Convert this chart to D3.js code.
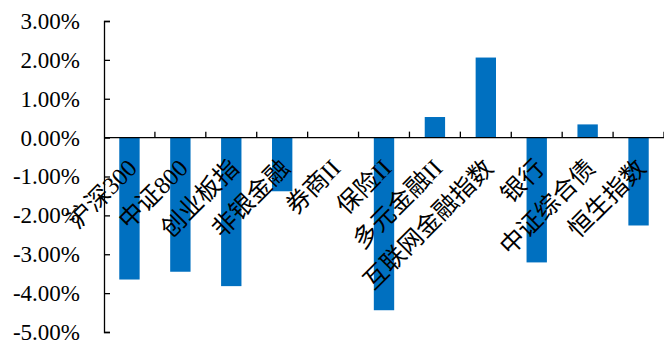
<!DOCTYPE html>
<html>
<head>
<meta charset="utf-8">
<script src="https://cdn.jsdelivr.net/npm/d3@7"></script>
<style>
  html, body { margin: 0; padding: 0; background: #fff; }
  svg { display: block; }
</style>
</head>
<body>
<svg id="chart" width="664" height="344"></svg>
<script>
// Weekly returns of market and financial-sector indices (%)
const categories = ["沪深300", "中证800", "创业板指", "非银金融", "券商II", "保险II",
                    "多元金融II", "互联网金融指数", "银行", "中证综合债", "恒生指数"];
const returns = [-3.65, -3.45, -3.82, -1.38, 0.0, -4.44, 0.53, 2.06, -3.21, 0.34, -2.26];
const yTicks = [3, 2, 1, 0, -1, -2, -3, -4, -5];

const serif = "'Liberation Serif', 'DejaVu Serif', 'Noto Sans CJK SC', serif";

const svg = d3.select("#chart");
const plotLeft = 104, plotRight = 664, plotTop = 21, plotBottom = 332;

const x = d3.scaleBand()
  .domain(categories)
  .range([plotLeft, plotRight])
  .paddingInner(0.6)
  .paddingOuter(0.3);

const y = d3.scaleLinear().domain([-5, 3]).range([plotBottom, plotTop]);

const fmt = v => v.toFixed(2) + "%";

// bars
svg.append("g")
  .selectAll("rect")
  .data(returns)
  .join("rect")
  .attr("x", (d, i) => x(categories[i]))
  .attr("width", x.bandwidth())
  .attr("y", d => y(Math.max(0, d)))
  .attr("height", d => Math.abs(y(d) - y(0)))
  .attr("fill", "#0070C0");

// y axis: ticks point inward, labels on the left
const yAxis = d3.axisLeft(y)
  .tickValues(yTicks)
  .tickSize(-6)
  .tickPadding(24)
  .tickFormat(fmt);

const gy = svg.append("g")
  .attr("transform", `translate(${plotLeft},0)`)
  .call(yAxis)
  .attr("font-family", serif)
  .attr("font-size", 23);
gy.select(".domain").attr("stroke", "#000").attr("stroke-width", 1.3);
gy.selectAll(".tick line").attr("stroke", "#000").attr("stroke-width", 1.3);
gy.selectAll(".tick text").attr("fill", "#000");

// category axis along zero: divider ticks between categories, pointing up
const step = x.step();
const x0 = x.range()[0];
const dividers = d3.range(categories.length + 1).map(i => x0 + i * step);
const gx = svg.append("g");
gx.append("line")
  .attr("x1", plotLeft).attr("x2", plotRight)
  .attr("y1", y(0)).attr("y2", y(0))
  .attr("stroke", "#000").attr("stroke-width", 1.3);
gx.selectAll("line.div")
  .data(dividers.slice(1))
  .join("line")
  .attr("class", "div")
  .attr("x1", d => d).attr("x2", d => d)
  .attr("y1", y(0)).attr("y2", y(0) - 6)
  .attr("stroke", "#000").attr("stroke-width", 1.3);

// rotated category labels
const center = c => x(c) + x.bandwidth() / 2;
svg.append("g")
  .attr("font-family", serif)
  .attr("font-size", 24.5)
  .selectAll("text")
  .data(categories)
  .join("text")
  .attr("fill", "#000")
  .attr("text-anchor", "end")
  .attr("transform", d => `translate(${center(d) + 9},${y(0) + 32}) rotate(-45)`)
  .text(d => d);
</script>
</body>
</html>
